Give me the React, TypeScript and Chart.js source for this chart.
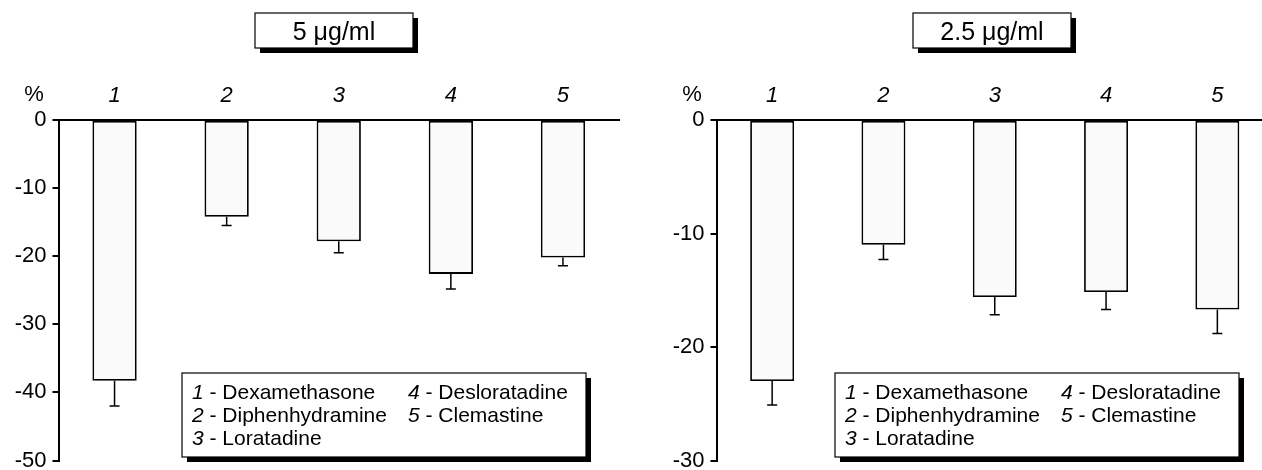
import React, { useEffect, useRef } from "react";
import { Chart, registerables } from "chart.js";

Chart.register(...registerables);

const FONT = "'Liberation Sans', Arial, sans-serif";

const categories = ["1", "2", "3", "4", "5"];
const drugNames = ["Dexamethasone", "Diphenhydramine", "Loratadine", "Desloratadine", "Clemastine"];

const title5 = "5 μg/ml";
const values5 = [-38.3, -14.2, -17.8, -22.6, -20.2];
const errors5 = [3.7, 1.3, 1.7, 2.2, 1.2];
const yMin5 = -50;

const title25 = "2.5 μg/ml";
const values25 = [-23.0, -11.0, -15.6, -15.15, -16.7];
const errors25 = [2.1, 1.3, 1.55, 1.55, 2.1];
const yMin25 = -30;

const yMax = 0;
const yStep = 10;
const yUnit = "%";

type PanelProps = {
  title: string;
  values: number[];
  errors: number[];
  yMin: number;
  left: number;
  width: number;
  padRight: number;
  legendX: number;
};

function Panel({ title, values, errors, yMin, left, width, padRight, legendX }: PanelProps) {
  const ref = useRef<HTMLCanvasElement | null>(null);

  useEffect(() => {
    const canvas = ref.current;
    if (!canvas) return;

    const errorBars = {
      id: "errorBars",
      afterDatasetsDraw(chart: any) {
        const ctx = chart.ctx;
        const meta = chart.getDatasetMeta(0);
        const ys = chart.scales.y;
        ctx.save();
        ctx.strokeStyle = "#000";
        ctx.lineWidth = 1.5;
        meta.data.forEach((bar: any, i: number) => {
          const v = values[i];
          const yTop = ys.getPixelForValue(v);
          const yEnd = ys.getPixelForValue(v - errors[i]);
          ctx.beginPath();
          ctx.moveTo(bar.x, yTop);
          ctx.lineTo(bar.x, yEnd);
          ctx.moveTo(bar.x - 5, yEnd);
          ctx.lineTo(bar.x + 5, yEnd);
          ctx.stroke();
        });
        ctx.restore();
      },
    };

    const decorations = {
      id: "decorations",
      afterDraw(chart: any) {
        const ctx = chart.ctx;
        ctx.save();
        // title box with shadow
        const bx = 255, by = 13, bw = 158, bh = 35;
        ctx.fillStyle = "#000";
        ctx.fillRect(bx + 5, by + 5, bw, bh);
        ctx.fillStyle = "#fff";
        ctx.fillRect(bx, by, bw, bh);
        ctx.strokeStyle = "#000";
        ctx.lineWidth = 1.2;
        ctx.strokeRect(bx, by, bw, bh);
        ctx.fillStyle = "#000";
        ctx.font = `25px ${FONT}`;
        ctx.textAlign = "center";
        ctx.textBaseline = "alphabetic";
        ctx.fillText(title, bx + bw / 2, 39.5);

        // unit label
        ctx.font = `22px ${FONT}`;
        ctx.textAlign = "center";
        ctx.fillText(yUnit, 34, 101);

        // legend box
        const lx = legendX, ly = 373, lw = 404, lh = 84;
        ctx.fillStyle = "#000";
        ctx.fillRect(lx + 5, ly + 5, lw, lh);
        ctx.fillStyle = "#fff";
        ctx.fillRect(lx, ly, lw, lh);
        ctx.strokeStyle = "#000";
        ctx.lineWidth = 1.2;
        ctx.strokeRect(lx, ly, lw, lh);
        ctx.fillStyle = "#000";
        ctx.textAlign = "left";
        const rows = [399, 422, 445];
        const cols = [lx + 10, lx + 226];
        drugNames.forEach((name, i) => {
          const col = i < 3 ? 0 : 1;
          const row = i < 3 ? i : i - 3;
          const x = cols[col];
          const y = rows[row];
          ctx.font = `italic 21px ${FONT}`;
          ctx.fillText(categories[i], x, y);
          const w = ctx.measureText(categories[i]).width;
          ctx.font = `21px ${FONT}`;
          ctx.fillText(" - " + name, x + w, y);
        });
        ctx.restore();
      },
    };

    const chart = new Chart(canvas, {
      type: "bar",
      data: {
        labels: categories,
        datasets: [
          {
            data: values,
            backgroundColor: "#fafafa",
            borderColor: "#000",
            borderWidth: 1.8,
            borderSkipped: false,
            barPercentage: 0.395,
            categoryPercentage: 1,
          },
        ],
      },
      options: {
        animation: false,
        responsive: false,
        maintainAspectRatio: false,
        devicePixelRatio: 1,
        layout: { padding: { top: 0, left: 0, right: padRight, bottom: 9.5 } },
        plugins: {
          legend: { display: false },
          tooltip: { enabled: false },
          title: { display: false },
        },
        scales: {
          x: {
            position: "top",
            grid: { display: false, drawTicks: false },
            border: { display: true, color: "#000", width: 2 },
            ticks: {
              color: "#000",
              padding: 11,
              font: { family: FONT, size: 22, style: "italic" },
            },
            afterFit(scale: any) {
              scale.height = 120;
              scale.paddingLeft = 0;
              scale.paddingRight = 0;
            },
          },
          y: {
            min: yMin,
            max: yMax,
            grid: {
              display: true,
              drawOnChartArea: false,
              drawTicks: true,
              tickLength: 6,
              color: "#000",
              lineWidth: 2,
            },
            border: { display: true, color: "#000", width: 2 },
            ticks: {
              stepSize: yStep,
              color: "#000",
              padding: 6,
              font: { family: FONT, size: 22 },
            },
            afterFit(scale: any) {
              scale.width = 58.5;
              scale.paddingTop = 0;
              scale.paddingBottom = 0;
            },
          },
        },
      },
      plugins: [errorBars, decorations],
    });

    return () => chart.destroy();
  }, [title, values, errors, yMin, padRight, legendX]);

  return (
    <canvas
      ref={ref}
      width={width}
      height={470}
      style={{ position: "absolute", left, top: 0, width, height: 470, display: "block" }}
    />
  );
}

export default function App() {
  return (
    <div
      style={{
        position: "fixed",
        left: 0,
        top: 0,
        width: 1262,
        height: 470,
        overflow: "hidden",
        background: "#fff",
      }}
    >
      <Panel title={title5} values={values5} errors={errors5} yMin={yMin5} left={0} width={631} padRight={12} legendX={182} />
      <Panel title={title25} values={values25} errors={errors25} yMin={yMin25} left={658} width={620} padRight={5} legendX={177} />
    </div>
  );
}
